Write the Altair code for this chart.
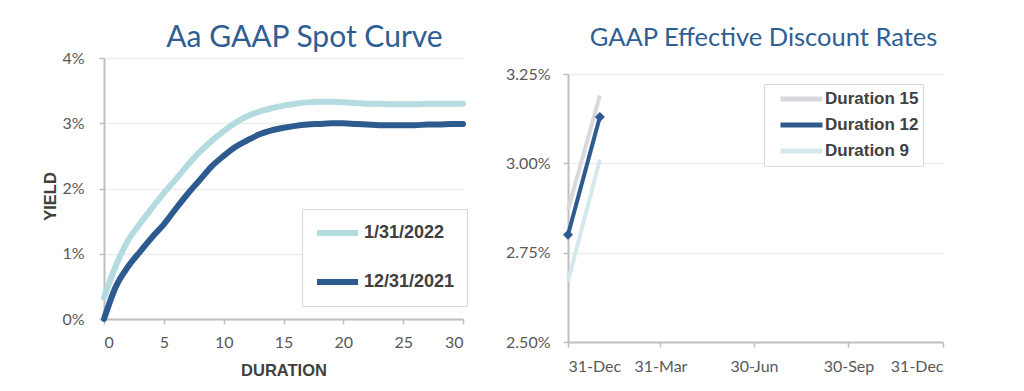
import altair as alt
import pandas as pd

# ---- Left panel: Aa GAAP spot curve ----
durations = list(range(0, 31))
yield_jan2022 = [0.33, 0.82, 1.20, 1.46, 1.70, 1.93, 2.14, 2.36, 2.56, 2.73, 2.88,
                 3.01, 3.11, 3.18, 3.23, 3.27, 3.30, 3.32, 3.33, 3.33, 3.32,
                 3.31, 3.30, 3.30, 3.29, 3.29, 3.29, 3.30, 3.30, 3.30, 3.30]
yield_dec2021 = [0.00, 0.50, 0.80, 1.03, 1.25, 1.45, 1.69, 1.92, 2.13, 2.34, 2.50,
                 2.64, 2.74, 2.83, 2.89, 2.93, 2.96, 2.98, 2.99, 3.00, 3.00,
                 2.99, 2.98, 2.97, 2.97, 2.97, 2.97, 2.98, 2.98, 2.99, 2.99]
curve_labels = ["1/31/2022", "12/31/2021"]
x_ticks_left = [0, 5, 10, 15, 20, 25, 30]
y_ticks_left = [0, 1, 2, 3, 4]

# ---- Right panel: GAAP effective discount rates ----
rate_dates = ["2021-12-31", "2022-01-31"]
dur15 = [2.87, 3.19]
dur12 = [2.80, 3.13]
dur9 = [2.67, 3.01]
rate_labels = ["Duration 15", "Duration 12", "Duration 9"]
y_ticks_right = [2.50, 2.75, 3.00, 3.25]

DARK = "#2E5B8F"
LIGHT = "#B3DBE0"
GRAY15 = "#D8D9DD"
LIGHT9 = "#D3E9EC"
TITLE_C = "#2F5E95"
TICK_C = "#595959"
AX_C = "#BFBFBF"
GRID_C = "#EDEDED"
LEG_C = "#404040"
NUM_FONT = "Lato"
BOLD_FONT = "Liberation Sans"

left_df = pd.DataFrame({
    "duration": durations + durations,
    "yield": yield_jan2022 + yield_dec2021,
    "series": [curve_labels[0]] * len(durations) + [curve_labels[1]] * len(durations),
})

common_axis = dict(
    labelFont=NUM_FONT, labelFontSize=16, labelColor=TICK_C,
    domainColor=AX_C, domainWidth=2, tickColor=AX_C, tickWidth=1.5, tickSize=5,
    titleFont=BOLD_FONT, titleFontSize=16.5, titleFontWeight="bold", titleColor=LEG_C,
)

left = alt.Chart(left_df).mark_line(interpolate="monotone", strokeWidth=6, strokeCap="round").encode(
    x=alt.X("duration:Q", scale=alt.Scale(domain=[0, 30], nice=False),
            axis=alt.Axis(values=x_ticks_left, title="DURATION", grid=False,
                          labelPadding=10, titlePadding=12, **common_axis)),
    y=alt.Y("yield:Q", scale=alt.Scale(domain=[0, 4], nice=False),
            axis=alt.Axis(values=y_ticks_left, labelExpr="datum.value + '%'", title="YIELD",
                          grid=True, gridColor=GRID_C, gridWidth=1.5,
                          labelPadding=15, titleX=-54, titleY=138, titleAngle=270,
                          titleAlign="center", titleBaseline="middle", **common_axis)),
    color=alt.Color("series:N",
                    scale=alt.Scale(domain=curve_labels, range=[LIGHT, DARK]),
                    legend=alt.Legend(title=None, orient="none", legendX=198, legendY=151,
                                      symbolType="stroke", symbolSize=1681, symbolStrokeWidth=6,
                                      clipHeight=24, rowPadding=25, padding=12,
                                      labelFont=BOLD_FONT, labelFontSize=18, labelFontWeight="bold",
                                      labelColor=LEG_C, strokeColor="#D9D9D9", fillColor="white",
                                      labelOffset=3, labelExpr="datum.label + '   '")),
).properties(
    width=359, height=261,
    title=alt.Title("Aa GAAP Spot Curve", font=NUM_FONT, fontSize=30, fontWeight="normal",
                    color=TITLE_C, anchor="middle", dx=21, offset=-3),
)

right_df = pd.DataFrame({
    "date": rate_dates * 3,
    "rate": dur15 + dur9 + dur12,
    "series": [rate_labels[0]] * 2 + [rate_labels[2]] * 2 + [rate_labels[1]] * 2,
})

x_right = alt.X("date:T",
                scale=alt.Scale(type="utc", domain=[alt.DateTime(year=2021, month=12, date=31, utc=True),
                                                    alt.DateTime(year=2022, month=12, date=31, utc=True)]),
                axis=alt.Axis(values=[alt.DateTime(year=2021, month=12, date=31, utc=True),
                                      alt.DateTime(year=2022, month=3, date=31, utc=True),
                                      alt.DateTime(year=2022, month=6, date=30, utc=True),
                                      alt.DateTime(year=2022, month=9, date=30, utc=True),
                                      alt.DateTime(year=2022, month=12, date=31, utc=True)],
                              labelExpr="utcFormat(datum.value, '%d-%b')", title=None, grid=False,
                              labelPadding=11, **common_axis))
y_right = alt.Y("rate:Q", scale=alt.Scale(domain=[2.5, 3.25], nice=False, range=[284, 16]),
                axis=alt.Axis(values=y_ticks_right, labelExpr="format(datum.value, '.2f') + '%'",
                              title=None, grid=True, gridColor=GRID_C, gridWidth=1.5,
                              labelPadding=13, **common_axis))
color_right = alt.Color("series:N",
                        scale=alt.Scale(domain=rate_labels, range=[GRAY15, DARK, LIGHT9]),
                        legend=alt.Legend(title=None, orient="none", legendX=196, legendY=26,
                                          symbolType="stroke", symbolSize=1764, symbolStrokeWidth=5,
                                          clipHeight=22, rowPadding=4, padding=4,
                                          labelFont=BOLD_FONT, labelFontSize=17, labelFontWeight="bold",
                                          labelColor=LEG_C, strokeColor="#D9D9D9", fillColor="white",
                                          symbolOffset=10, labelOffset=0,
                                          labelExpr="datum.label + '   '"))

base_r = alt.Chart(right_df).encode(x=x_right, y=y_right, color=color_right)
lines_r = base_r.mark_line(strokeWidth=4)
pts_r = base_r.transform_filter(alt.datum.series == "Duration 12").mark_point(
    shape="diamond", filled=True, size=100, opacity=1)

right = alt.layer(lines_r, pts_r).properties(
    width=375, height=284,
    title=alt.Title("GAAP Effective Discount Rates", font=NUM_FONT, fontSize=25.5, fontWeight="normal",
                    color=TITLE_C, anchor="middle", dx=8, offset=7),
)

chart = alt.hconcat(left, right, spacing=30).resolve_scale(color="independent").configure_view(
    stroke=None
).properties(padding={"left": 34, "top": 15, "right": 5, "bottom": 5})

chart.save("out.html", embed_options={"renderer": "svg", "actions": False})
